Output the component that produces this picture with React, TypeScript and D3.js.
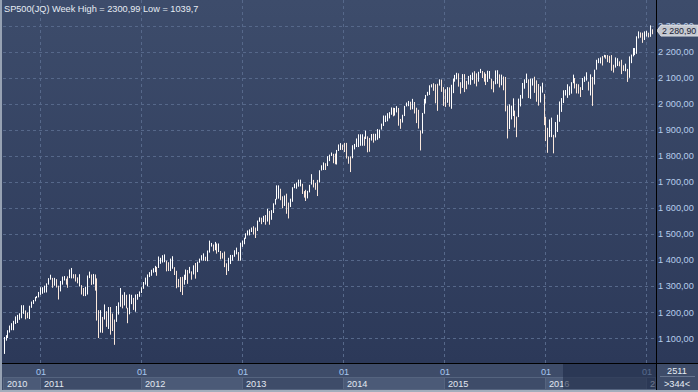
import React from 'react';
import * as d3 from 'd3';

// weekly high / low, SP500, week of 23 Aug 2010 onwards
const high2010 = [1105, 1112, 1131, 1149, 1158, 1167, 1184, 1190, 1196, 1227, 1227, 1207, 1199, 1225, 1241, 1247, 1259, 1262];
const low2010 = [1040, 1091, 1101, 1122, 1131, 1131, 1155, 1159, 1171, 1177, 1194, 1173, 1177, 1174, 1217, 1232, 1242, 1254];

const high2011 = [1278, 1296, 1296, 1302, 1311, 1331, 1344, 1332, 1332, 1327, 1302, 1320, 1337, 1339, 1329, 1338, 1364, 1370, 1346, 1346, 1334, 1346, 1304, 1293, 1298, 1341, 1356, 1345, 1347, 1345, 1330, 1208, 1208, 1182, 1230, 1204, 1220, 1220, 1195, 1172, 1224, 1238, 1293, 1267, 1277, 1267, 1217, 1269, 1267, 1255, 1268, 1270];
const low2011 = [1257, 1267, 1271, 1275, 1276, 1306, 1325, 1294, 1302, 1295, 1249, 1280, 1306, 1322, 1306, 1294, 1331, 1330, 1330, 1318, 1311, 1299, 1268, 1262, 1262, 1268, 1331, 1305, 1307, 1283, 1168, 1101, 1122, 1121, 1172, 1144, 1136, 1114, 1128, 1075, 1163, 1191, 1221, 1215, 1226, 1215, 1158, 1192, 1231, 1209, 1202, 1248];

const high2012 = [1280, 1296, 1316, 1333, 1345, 1354, 1363, 1369, 1378, 1374, 1414, 1409, 1419, 1422, 1398, 1392, 1406, 1415, 1373, 1359, 1328, 1335, 1336, 1344, 1364, 1362, 1374, 1357, 1380, 1389, 1394, 1406, 1419, 1426, 1413, 1437, 1475, 1466, 1460, 1470, 1464, 1464, 1435, 1428, 1433, 1388, 1409, 1420, 1420, 1438, 1448, 1431];
const low2012 = [1259, 1274, 1290, 1306, 1300, 1335, 1340, 1352, 1354, 1340, 1370, 1386, 1391, 1392, 1357, 1358, 1358, 1367, 1343, 1292, 1296, 1278, 1266, 1306, 1324, 1309, 1349, 1325, 1345, 1329, 1354, 1390, 1399, 1398, 1397, 1396, 1429, 1452, 1434, 1438, 1425, 1431, 1403, 1406, 1373, 1343, 1358, 1385, 1398, 1413, 1422, 1398];

const high2013 = [1467, 1475, 1486, 1503, 1514, 1518, 1525, 1530, 1525, 1552, 1564, 1563, 1570, 1573, 1597, 1589, 1592, 1618, 1635, 1687, 1687, 1674, 1645, 1648, 1655, 1621, 1636, 1680, 1693, 1698, 1709, 1709, 1693, 1665, 1670, 1666, 1689, 1730, 1708, 1696, 1708, 1745, 1764, 1775, 1772, 1799, 1805, 1813, 1808, 1809, 1823, 1844, 1849];
const low2013 = [1398, 1451, 1461, 1482, 1495, 1495, 1508, 1498, 1485, 1512, 1547, 1538, 1546, 1536, 1548, 1536, 1555, 1581, 1613, 1633, 1636, 1630, 1599, 1608, 1578, 1560, 1604, 1624, 1676, 1674, 1682, 1683, 1654, 1640, 1627, 1637, 1660, 1690, 1679, 1670, 1646, 1698, 1744, 1746, 1746, 1761, 1780, 1800, 1772, 1768, 1767, 1819, 1823];

const high2014 = [1843, 1850, 1850, 1798, 1798, 1841, 1846, 1867, 1883, 1883, 1883, 1874, 1897, 1875, 1869, 1884, 1885, 1885, 1903, 1901, 1924, 1955, 1955, 1964, 1968, 1986, 1985, 1984, 1991, 1984, 1942, 1958, 1992, 2005, 2011, 2008, 2019, 2007, 1985, 1977, 1898, 1965, 2019, 2034, 2046, 2071, 2075, 2079, 2075, 2077, 2094, 2093];
const low2014 = [1823, 1815, 1790, 1770, 1738, 1791, 1825, 1834, 1834, 1839, 1839, 1839, 1865, 1814, 1816, 1859, 1851, 1859, 1862, 1868, 1901, 1915, 1930, 1933, 1944, 1958, 1952, 1955, 1967, 1916, 1904, 1928, 1953, 1990, 1991, 1977, 1979, 1963, 1926, 1905, 1821, 1886, 1962, 2001, 2031, 2034, 2063, 2050, 2002, 1973, 2070, 2046];

const high2015 = [2064, 2056, 2064, 2063, 2073, 2097, 2111, 2119, 2117, 2083, 2114, 2114, 2088, 2107, 2111, 2120, 2125, 2117, 2123, 2134, 2126, 2121, 2115, 2127, 2126, 2096, 2087, 2128, 2129, 2113, 2112, 2105, 2103, 1993, 1998, 1993, 2021, 1974, 1951, 2020, 2034, 2080, 2094, 2116, 2094, 2097, 2097, 2104, 2090, 2076, 2067, 2081];
const low2015 = [1992, 1988, 2004, 1989, 1981, 2041, 2085, 2094, 2066, 2039, 2061, 2045, 2056, 2074, 2073, 2091, 2077, 2067, 2085, 2118, 2099, 2085, 2072, 2084, 2096, 2056, 2044, 2075, 2077, 2063, 2071, 2052, 1971, 1867, 1903, 1940, 1953, 1909, 1872, 1949, 1990, 2020, 2058, 2080, 2022, 2019, 2070, 2042, 2008, 1993, 2005, 2043];

const high2016 = [2038, 1950, 1908, 1940, 1947, 1881, 1930, 1958, 2009, 2022, 2052, 2053, 2075, 2067, 2083, 2112, 2099, 2077, 2075, 2064, 2099, 2105, 2121, 2085, 2113, 2103, 2131, 2169, 2175, 2178, 2183, 2188, 2187, 2187, 2184, 2187, 2150, 2178, 2175, 2163, 2169, 2148, 2154, 2134, 2182, 2189, 2214, 2214, 2259, 2278, 2274, 2273];
const low2016 = [1918, 1857, 1812, 1872, 1872, 1810, 1871, 1892, 1931, 1969, 2003, 2032, 2023, 2033, 2039, 2079, 2059, 2040, 2039, 2026, 2053, 2084, 2089, 2051, 2032, 1992, 2074, 2131, 2156, 2155, 2147, 2178, 2173, 2160, 2157, 2127, 2120, 2139, 2145, 2144, 2114, 2126, 2125, 2084, 2100, 2156, 2182, 2187, 2192, 2251, 2254, 2234];

const high2017 = [2278, 2280, 2273, 2301, 2286];
const low2017 = [2245, 2258, 2255, 2257, 2267];

const yTicks = [1100, 1200, 1300, 1400, 1500, 1600, 1700, 1800, 1900, 2000, 2100, 2200, 2300];
const years = [2010, 2011, 2012, 2013, 2014, 2015, 2016, 2017];
const lastPrice = 2280.9;
const title = 'SP500(JQ) Week High = 2300,99 Low = 1039,7';

const W = 698;
const H = 392;
const plotLeft = 3;
const plotRight = 656;
const plotBottom = 363;
const font = '"Liberation Sans", Arial, sans-serif';

const highs = [...high2010, ...high2011, ...high2012, ...high2013, ...high2014, ...high2015, ...high2016, ...high2017];
const lows = [...low2010, ...low2011, ...low2012, ...low2013, ...low2014, ...low2015, ...low2016, ...low2017];

const fmt = d3.formatLocale({ decimal: ',', thousands: ' ', grouping: [3], currency: ['', ''] }).format(',.2f');

export default function App() {
  const weeks = d3.timeMonday.range(new Date(2010, 7, 23), new Date(2017, 2, 1)).slice(0, highs.length);

  const x = d3.scaleTime()
    .domain([new Date(2011, 0, 1), new Date(2017, 0, 1)])
    .range([40.3, 646.3]);
  const y = d3.scaleLinear().domain([1100, 2200]).range([338.3, 51.7]);

  const bars = weeks.map((d, i) => {
    const mid = (highs[i] + lows[i]) / 2;
    const prev = i > 0 ? (highs[i - 1] + lows[i - 1]) / 2 : mid;
    return { x: Math.floor(x(d)), hi: highs[i], lo: lows[i], up: mid >= prev };
  });

  const yearStarts = years.map(yr => new Date(yr, 0, 1));
  const boxes = years.map((yr, i) => {
    const x0 = Math.max(plotLeft, Math.round(x(yearStarts[i])));
    const x1 = i < years.length - 1 ? Math.min(plotRight - 1, Math.round(x(yearStarts[i + 1]))) : plotRight - 1;
    // a box too narrow for the year only shows its first digit
    const label = x1 - x0 < 24 && i > 0 ? String(yr).slice(0, 1) : String(yr);
    return { yr, x0, x1, label, light: i % 2 === 0 };
  });

  const py = y(lastPrice);

  return (
    <div style={{ position: 'absolute', left: 0, top: 0 }}>
      <svg width={W} height={H} style={{ display: 'block' }}>
        <defs>
          <linearGradient id="bg" x1="0" y1="0" x2="0" y2="1">
            <stop offset="0%" stopColor="#3d4c6b" />
            <stop offset="100%" stopColor="#2c3959" />
          </linearGradient>
          <clipPath id="axisClip">
            <rect x={plotLeft} y={plotBottom} width={plotRight - plotLeft} height={H - plotBottom} />
          </clipPath>
        </defs>

        <rect x={0} y={0} width={W} height={plotBottom} fill="url(#bg)" />
        <rect x={0} y={plotBottom} width={W} height={H - plotBottom} fill="#3e4c69" />

        {/* horizontal grid */}
        {yTicks.map(t => (
          <line key={t} x1={plotLeft} x2={plotRight} y1={Math.round(y(t)) + 0.5} y2={Math.round(y(t)) + 0.5}
            stroke="#56688a" strokeDasharray="3,3" />
        ))}
        {/* vertical grid at year starts */}
        {yearStarts.slice(1).map((d, i) => (
          <line key={i} x1={Math.round(x(d)) + 0.5} x2={Math.round(x(d)) + 0.5} y1={0} y2={plotBottom}
            stroke="#56688a" strokeDasharray="3,3" />
        ))}

        {/* weekly high-low bars */}
        {bars.map((b, i) => (
          <rect key={i} x={b.x} y={y(b.hi)} width={1} height={Math.max(1, y(b.lo) - y(b.hi))}
            fill={b.up ? '#ffffff' : '#fae8dc'} />
        ))}

        <text x={4} y={12} fontFamily={font} fontSize={9.2} fill="#e6ecf4">{title}</text>

        {/* price axis */}
        {yTicks.map(t => (
          <text key={t} x={658} y={y(t) + 3.3} fontFamily={font} fontSize={9.2} fill="#b6cdec">{fmt(t)}</text>
        ))}
        <polygon
          points={`657,${py} 661,${py - 5.5} 698,${py - 5.5} 698,${py + 5.5} 661,${py + 5.5}`}
          fill="#c4c8d0" stroke="#e3e6eb" strokeWidth={0.8} />
        <text x={662} y={py + 3.3} fontFamily={font} fontSize={8.8} fill="#1b2335">{fmt(lastPrice)}</text>

        {/* time axis */}
        <g clipPath="url(#axisClip)">
          {boxes.map(b => (
            <g key={b.yr}>
              <rect x={b.x0 + 0.5} y={377.5} width={b.x1 - b.x0} height={12}
                fill={b.light ? '#4b5a77' : '#3e4c69'} stroke="#55647f" />
              <text x={b.x0 + 4} y={386.5} fontFamily={font} fontSize={9.2} fill="#e2e8f1">{b.label}</text>
            </g>
          ))}
          {yearStarts.slice(1).map((d, i) => (
            <text key={i} x={Math.round(x(d)) + 1} y={374.5} textAnchor="middle" fontFamily={font} fontSize={9.2} fill="#a7c6ee">01</text>
          ))}
          <rect x={563} y={364} width={plotRight - 563} height={25} fill="#202b47" opacity={0.6} />
        </g>

        {/* corner box */}
        <text x={677} y={373.5} textAnchor="middle" fontFamily={font} fontSize={9.2} fill="#e6ecf4">2511</text>
        <line x1={660} x2={695} y1={376.5} y2={376.5} stroke="#66748e" />
        <text x={677} y={386.5} textAnchor="middle" fontFamily={font} fontSize={9.2} fill="#e6ecf4">&gt;344&lt;</text>

        {/* frame lines */}
        <line x1={0} x2={W} y1={plotBottom + 0.5} y2={plotBottom + 0.5} stroke="#000" />
        <line x1={plotRight + 0.5} x2={plotRight + 0.5} y1={0} y2={H} stroke="#000" />
        <rect x={0} y={0} width={2} height={H} fill="#97a2b3" />
        <rect x={0} y={H - 2} width={W} height={2} fill="#a3adbc" />
      </svg>
    </div>
  );
}
